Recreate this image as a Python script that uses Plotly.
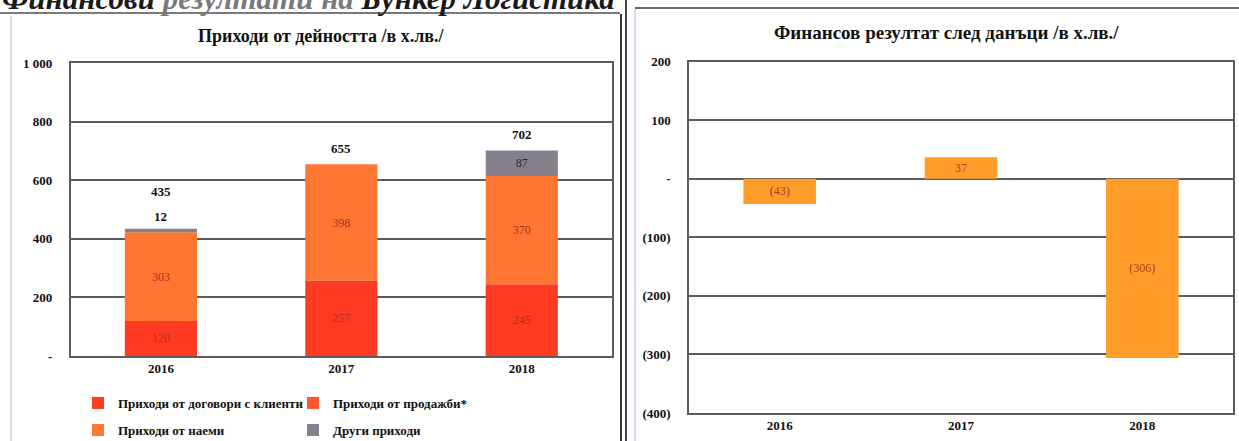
import plotly.graph_objects as go

# ---------------- data ----------------
years = ["2016", "2017", "2018"]
rev_contracts = [120, 257, 245]
rev_sales = [0, 0, 0]
rev_rent = [303, 398, 370]
rev_other = [12, 0, 87]
rev_total = [435, 655, 702]

net_result = [-43, 37, -306]

left_ticks = [0, 200, 400, 600, 800, 1000]
left_ticktext = ["-", "200", "400", "600", "800", "1 000"]
right_ticks = [-400, -300, -200, -100, 0, 100, 200]
right_ticktext = ["(400)", "(300)", "(200)", "(100)", "-", "100", "200"]

series_names = ["Приходи от договори с клиенти", "Приходи от продажби*",
                "Приходи от наеми", "Други приходи"]
left_title = "Приходи от дейността /в х.лв./"
right_title = "Финансов резултат след данъци /в х.лв./"
page_heading = ("<b><i>Финансови <span style='color:#7a7a7a'>резултати на</span> "
                "Бункер Логистика</i></b>")

# ---------------- styles ----------------
W, H = 1239, 441
SERIF = "Liberation Serif, Times New Roman, serif"
C_CONTRACTS = "#FF3A22"
C_SALES = "#FF5533"
C_RENT = "#FF7633"
C_OTHER = "#85808A"
C_RESULT = "#FF9C2A"
GRID = "#5c5c5c"


def px_x(p):
    return p / W


def px_y(p):
    return 1 - p / H


def fmt(v):
    return "" if v == 0 else str(v)


fig = go.Figure()

lab_font = dict(family=SERIF, size=12, color="#A8341C")

fig.add_trace(go.Bar(x=years, y=rev_contracts, name=series_names[0], marker_color=C_CONTRACTS,
                     text=[fmt(v) for v in rev_contracts], textposition="inside",
                     insidetextanchor="middle", textangle=0, textfont=lab_font,
                     xaxis="x", yaxis="y", legend="legend"))
fig.add_trace(go.Bar(x=years, y=rev_sales, name=series_names[1], marker_color=C_SALES,
                     xaxis="x", yaxis="y", legend="legend"))
fig.add_trace(go.Bar(x=years, y=rev_rent, name=series_names[2], marker_color=C_RENT,
                     text=[fmt(v) for v in rev_rent], textposition="inside",
                     insidetextanchor="middle", textangle=0, textfont=lab_font,
                     xaxis="x", yaxis="y", legend="legend2"))
fig.add_trace(go.Bar(x=years, y=rev_other, name=series_names[3], marker_color=C_OTHER,
                     text=[fmt(v) if v >= 40 else "" for v in rev_other], textposition="inside",
                     insidetextanchor="middle", textangle=0,
                     textfont=dict(family=SERIF, size=12, color="#2a2a2a"),
                     xaxis="x", yaxis="y", legend="legend2"))

# small values and totals above the stacks (x = category index)
for i, (tot, oth) in enumerate(zip(rev_total, rev_other)):
    if 0 < oth < 40:
        fig.add_annotation(x=i, y=tot, xref="x", yref="y", text=f"<b>{oth}</b>",
                           showarrow=False, yshift=12,
                           font=dict(family=SERIF, size=13, color="#111"))
        shift = 37
    else:
        shift = 16
    fig.add_annotation(x=i, y=tot, xref="x", yref="y", text=f"<b>{tot}</b>",
                       showarrow=False, yshift=shift,
                       font=dict(family=SERIF, size=13, color="#111"))

res_text = [f"({abs(v)})" if v < 0 else str(v) for v in net_result]
fig.add_trace(go.Bar(x=years, y=net_result, marker_color=C_RESULT, showlegend=False,
                     text=res_text, textposition="inside", insidetextanchor="middle",
                     textangle=0, textfont=dict(family=SERIF, size=12, color="#B03A18"),
                     xaxis="x2", yaxis="y2"))

fig.update_traces(marker_line_width=0)

axis_common = dict(showline=True, mirror=True, linecolor=GRID, linewidth=1.5,
                   ticks="", fixedrange=True, automargin=False)
tickf = dict(family=SERIF, size=13, color="#111", weight="bold")
cat_range = [-0.5, len(years) - 0.5]
legend_font = dict(family=SERIF, size=13, color="#111", weight="bold")

fig.update_layout(
    width=W, height=H,
    margin=dict(l=0, r=0, t=0, b=0, pad=0, autoexpand=False),
    paper_bgcolor="white", plot_bgcolor="white",
    barmode="relative", bargap=0.6,
    font=dict(family=SERIF, size=12, color="#111"),
    xaxis=dict(domain=[px_x(70.7), px_x(612)], anchor="y", type="category", range=cat_range,
               **axis_common, tickfont=tickf, showgrid=False),
    yaxis=dict(domain=[px_y(356), px_y(63.3)], anchor="x", range=[0, 1000], **axis_common,
               tickvals=left_ticks, ticktext=left_ticktext, showgrid=True,
               gridcolor=GRID, gridwidth=1.5, zeroline=False, ticklabelstandoff=14,
               tickfont=tickf),
    xaxis2=dict(domain=[px_x(689), px_x(1233)], anchor="y2", type="category", range=cat_range,
                **axis_common, tickfont=tickf, showgrid=False),
    yaxis2=dict(domain=[px_y(413), px_y(61.7)], anchor="x2", range=[-400, 200], **axis_common,
                tickvals=right_ticks, ticktext=right_ticktext, showgrid=True,
                gridcolor=GRID, gridwidth=1.5, zeroline=False, ticklabelstandoff=14,
                tickfont=tickf),
    legend=dict(orientation="h", x=px_x(78), y=px_y(403), xanchor="left", yanchor="middle",
                entrywidth=170, entrywidthmode="pixels", itemwidth=30, font=legend_font,
                bgcolor="rgba(0,0,0,0)", itemclick=False, itemdoubleclick=False),
    legend2=dict(orientation="h", x=px_x(78), y=px_y(430), xanchor="left", yanchor="middle",
                 entrywidth=170, entrywidthmode="pixels", itemwidth=30, font=legend_font,
                 bgcolor="rgba(0,0,0,0)", itemclick=False, itemdoubleclick=False),
    showlegend=True,
)

# chart titles
fig.add_annotation(x=px_x(321), y=px_y(36), xref="paper", yref="paper", xanchor="center",
                   yanchor="middle", text=f"<b>{left_title}</b>",
                   showarrow=False, font=dict(family=SERIF, size=18, color="#111"))
fig.add_annotation(x=px_x(946), y=px_y(33), xref="paper", yref="paper", xanchor="center",
                   yanchor="middle", text=f"<b>{right_title}</b>",
                   showarrow=False, font=dict(family=SERIF, size=19, color="#111"))

# cropped page heading at the very top
fig.add_annotation(x=0, y=px_y(18), xref="paper", yref="paper", xanchor="left", yanchor="bottom",
                   text=page_heading, showarrow=False,
                   font=dict(family=SERIF, size=31, color="#1a1a1a"))

# panel frames
shapes = [
    dict(type="line", xref="paper", yref="paper", x0=0, x1=px_x(620), y0=px_y(13), y1=px_y(13),
         line=dict(color="#7a7a7a", width=2)),
    dict(type="line", xref="paper", yref="paper", x0=px_x(11), x1=px_x(11), y0=0, y1=px_y(16),
         line=dict(color="#dcdcdc", width=2)),
    dict(type="line", xref="paper", yref="paper", x0=px_x(621), x1=px_x(621), y0=0, y1=px_y(14),
         line=dict(color="#333", width=2)),
    dict(type="line", xref="paper", yref="paper", x0=px_x(626), x1=px_x(626), y0=0, y1=1,
         line=dict(color="#444", width=2)),
    dict(type="line", xref="paper", yref="paper", x0=px_x(635), x1=px_x(635), y0=0, y1=px_y(9),
         line=dict(color="#c8c8e8", width=1.5)),
    dict(type="line", xref="paper", yref="paper", x0=px_x(635), x1=1, y0=px_y(8), y1=px_y(8),
         line=dict(color="#666", width=2)),
]
fig.update_layout(shapes=shapes)

fig.write_html("out.html", config={"displayModeBar": False},
               post_script="document.body.style.margin='0';document.body.style.overflow='hidden';")
